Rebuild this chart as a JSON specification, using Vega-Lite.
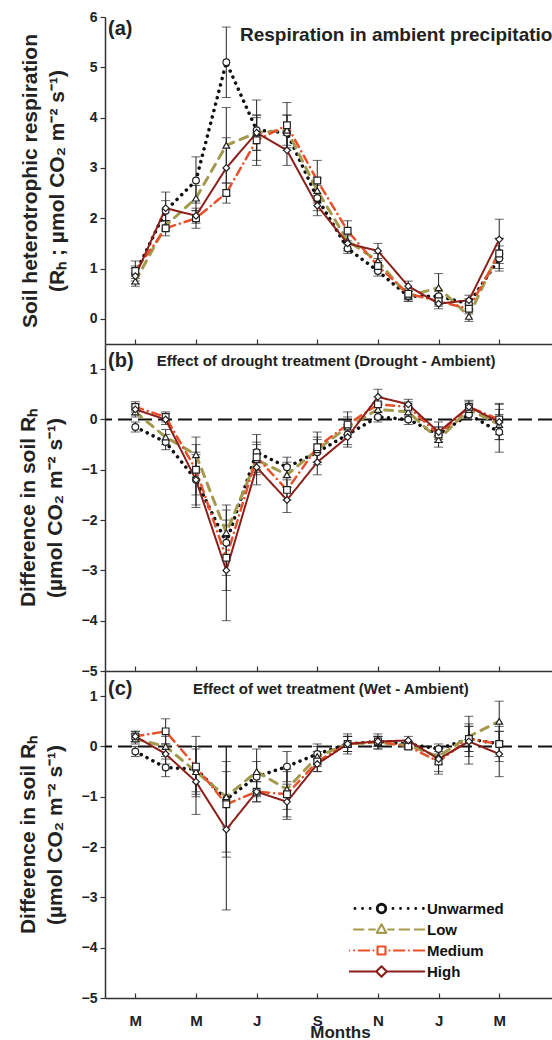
{
  "$schema": "https://vega.github.io/schema/vega-lite/v6.json",
  "padding": {"left": 17, "top": 10, "right": 0, "bottom": 0},
  "spacing": 0,
  "bounds": "flush",
  "background": "white",
  "config": {
    "view": {"stroke": null},
    "font": "Liberation Sans",
    "axis": {"labelFont": "Liberation Sans", "labelFontWeight": "bold", "labelFontSize": 14, "labelColor": "#222", "titleFont": "Liberation Sans", "titleFontWeight": "bold", "titleColor": "#222", "domainColor": "#333", "domainWidth": 1.5, "tickColor": "#333", "tickWidth": 1.2, "grid": false, "labelOverlap": false},
    "text": {"font": "Liberation Sans", "fontWeight": "bold", "color": "#222"}
  },
  "data": {"values": [
    {"p":"a","m":1,"s":"Unwarmed","v":0.9,"lo":0.75,"hi":1.05},{"p":"a","m":1,"s":"Low","v":0.75,"lo":0.65,"hi":0.85},{"p":"a","m":1,"s":"Medium","v":0.95,"lo":0.8,"hi":1.15},{"p":"a","m":1,"s":"High","v":0.85,"lo":0.7,"hi":1.0},
    {"p":"a","m":2,"s":"Unwarmed","v":2.15,"lo":1.95,"hi":2.35},{"p":"a","m":2,"s":"Low","v":1.85,"lo":1.75,"hi":1.95},{"p":"a","m":2,"s":"Medium","v":1.8,"lo":1.65,"hi":1.95},{"p":"a","m":2,"s":"High","v":2.2,"lo":1.95,"hi":2.52},
    {"p":"a","m":3,"s":"Unwarmed","v":2.75,"lo":2.3,"hi":3.22},{"p":"a","m":3,"s":"Low","v":2.4,"lo":2.15,"hi":2.65},{"p":"a","m":3,"s":"Medium","v":2.0,"lo":1.8,"hi":2.15},{"p":"a","m":3,"s":"High","v":2.05,"lo":1.9,"hi":2.2},
    {"p":"a","m":4,"s":"Unwarmed","v":5.1,"lo":4.4,"hi":5.8},{"p":"a","m":4,"s":"Low","v":3.45,"lo":2.7,"hi":4.2},{"p":"a","m":4,"s":"Medium","v":2.5,"lo":2.3,"hi":2.7},{"p":"a","m":4,"s":"High","v":3.0,"lo":2.45,"hi":3.6},
    {"p":"a","m":5,"s":"Unwarmed","v":3.75,"lo":3.15,"hi":4.35},{"p":"a","m":5,"s":"Low","v":3.7,"lo":3.35,"hi":4.05},{"p":"a","m":5,"s":"Medium","v":3.55,"lo":3.05,"hi":4.0},{"p":"a","m":5,"s":"High","v":3.7,"lo":3.35,"hi":4.05},
    {"p":"a","m":6,"s":"Unwarmed","v":3.7,"lo":3.35,"hi":4.05},{"p":"a","m":6,"s":"Low","v":3.75,"lo":3.45,"hi":4.05},{"p":"a","m":6,"s":"Medium","v":3.85,"lo":3.4,"hi":4.3},{"p":"a","m":6,"s":"High","v":3.35,"lo":3.05,"hi":3.65},
    {"p":"a","m":7,"s":"Unwarmed","v":2.4,"lo":2.15,"hi":2.65},{"p":"a","m":7,"s":"Low","v":2.55,"lo":2.3,"hi":2.8},{"p":"a","m":7,"s":"Medium","v":2.75,"lo":2.35,"hi":3.15},{"p":"a","m":7,"s":"High","v":2.25,"lo":2.05,"hi":2.45},
    {"p":"a","m":8,"s":"Unwarmed","v":1.4,"lo":1.3,"hi":1.5},{"p":"a","m":8,"s":"Low","v":1.55,"lo":1.4,"hi":1.7},{"p":"a","m":8,"s":"Medium","v":1.75,"lo":1.55,"hi":1.95},{"p":"a","m":8,"s":"High","v":1.5,"lo":1.35,"hi":1.65},
    {"p":"a","m":9,"s":"Unwarmed","v":0.95,"lo":0.85,"hi":1.05},{"p":"a","m":9,"s":"Low","v":1.15,"lo":1.0,"hi":1.3},{"p":"a","m":9,"s":"Medium","v":1.05,"lo":0.95,"hi":1.15},{"p":"a","m":9,"s":"High","v":1.35,"lo":1.2,"hi":1.5},
    {"p":"a","m":10,"s":"Unwarmed","v":0.45,"lo":0.35,"hi":0.55},{"p":"a","m":10,"s":"Low","v":0.45,"lo":0.35,"hi":0.55},{"p":"a","m":10,"s":"Medium","v":0.5,"lo":0.4,"hi":0.6},{"p":"a","m":10,"s":"High","v":0.65,"lo":0.55,"hi":0.75},
    {"p":"a","m":11,"s":"Unwarmed","v":0.45,"lo":0.35,"hi":0.55},{"p":"a","m":11,"s":"Low","v":0.62,"lo":0.35,"hi":0.9},{"p":"a","m":11,"s":"Medium","v":0.35,"lo":0.25,"hi":0.45},{"p":"a","m":11,"s":"High","v":0.3,"lo":0.2,"hi":0.4},
    {"p":"a","m":12,"s":"Unwarmed","v":0.3,"lo":0.2,"hi":0.4},{"p":"a","m":12,"s":"Low","v":0.05,"lo":-0.05,"hi":0.15},{"p":"a","m":12,"s":"Medium","v":0.2,"lo":0.1,"hi":0.3},{"p":"a","m":12,"s":"High","v":0.37,"lo":0.27,"hi":0.47},
    {"p":"a","m":13,"s":"Unwarmed","v":1.2,"lo":0.95,"hi":1.45},{"p":"a","m":13,"s":"Low","v":1.35,"lo":1.1,"hi":1.6},{"p":"a","m":13,"s":"Medium","v":1.3,"lo":1.0,"hi":1.6},{"p":"a","m":13,"s":"High","v":1.58,"lo":1.2,"hi":1.98},

    {"p":"b","m":1,"s":"Unwarmed","v":-0.15,"lo":-0.25,"hi":-0.05},{"p":"b","m":1,"s":"Low","v":0.15,"lo":0.05,"hi":0.25},{"p":"b","m":1,"s":"Medium","v":0.25,"lo":0.15,"hi":0.35},{"p":"b","m":1,"s":"High","v":0.2,"lo":0.1,"hi":0.3},
    {"p":"b","m":2,"s":"Unwarmed","v":-0.45,"lo":-0.6,"hi":-0.3},{"p":"b","m":2,"s":"Low","v":-0.35,"lo":-0.5,"hi":-0.2},{"p":"b","m":2,"s":"Medium","v":0.05,"lo":-0.05,"hi":0.15},{"p":"b","m":2,"s":"High","v":0.0,"lo":-0.1,"hi":0.12},
    {"p":"b","m":3,"s":"Unwarmed","v":-1.2,"lo":-1.75,"hi":-0.65},{"p":"b","m":3,"s":"Low","v":-0.7,"lo":-1.05,"hi":-0.35},{"p":"b","m":3,"s":"Medium","v":-1.0,"lo":-1.5,"hi":-0.5},{"p":"b","m":3,"s":"High","v":-1.2,"lo":-1.7,"hi":-0.7},
    {"p":"b","m":4,"s":"Unwarmed","v":-2.45,"lo":-3.1,"hi":-1.8},{"p":"b","m":4,"s":"Low","v":-2.25,"lo":-2.8,"hi":-1.7},{"p":"b","m":4,"s":"Medium","v":-2.75,"lo":-3.4,"hi":-2.1},{"p":"b","m":4,"s":"High","v":-3.0,"lo":-4.0,"hi":-2.0},
    {"p":"b","m":5,"s":"Unwarmed","v":-0.65,"lo":-1.0,"hi":-0.3},{"p":"b","m":5,"s":"Low","v":-0.8,"lo":-1.1,"hi":-0.5},{"p":"b","m":5,"s":"Medium","v":-0.75,"lo":-1.05,"hi":-0.45},{"p":"b","m":5,"s":"High","v":-0.95,"lo":-1.3,"hi":-0.6},
    {"p":"b","m":6,"s":"Unwarmed","v":-0.95,"lo":-1.15,"hi":-0.75},{"p":"b","m":6,"s":"Low","v":-1.1,"lo":-1.35,"hi":-0.85},{"p":"b","m":6,"s":"Medium","v":-1.4,"lo":-1.6,"hi":-1.2},{"p":"b","m":6,"s":"High","v":-1.6,"lo":-1.85,"hi":-1.35},
    {"p":"b","m":7,"s":"Unwarmed","v":-0.65,"lo":-0.9,"hi":-0.4},{"p":"b","m":7,"s":"Low","v":-0.6,"lo":-0.85,"hi":-0.35},{"p":"b","m":7,"s":"Medium","v":-0.55,"lo":-0.85,"hi":-0.25},{"p":"b","m":7,"s":"High","v":-0.85,"lo":-1.1,"hi":-0.6},
    {"p":"b","m":8,"s":"Unwarmed","v":-0.3,"lo":-0.5,"hi":-0.1},{"p":"b","m":8,"s":"Low","v":-0.15,"lo":-0.35,"hi":0.05},{"p":"b","m":8,"s":"Medium","v":-0.1,"lo":-0.3,"hi":0.15},{"p":"b","m":8,"s":"High","v":-0.35,"lo":-0.55,"hi":-0.15},
    {"p":"b","m":9,"s":"Unwarmed","v":0.05,"lo":-0.05,"hi":0.15},{"p":"b","m":9,"s":"Low","v":0.2,"lo":0.05,"hi":0.35},{"p":"b","m":9,"s":"Medium","v":0.3,"lo":0.15,"hi":0.45},{"p":"b","m":9,"s":"High","v":0.45,"lo":0.3,"hi":0.6},
    {"p":"b","m":10,"s":"Unwarmed","v":0.0,"lo":-0.1,"hi":0.1},{"p":"b","m":10,"s":"Low","v":0.15,"lo":0.05,"hi":0.25},{"p":"b","m":10,"s":"Medium","v":0.25,"lo":0.15,"hi":0.35},{"p":"b","m":10,"s":"High","v":0.3,"lo":0.2,"hi":0.4},
    {"p":"b","m":11,"s":"Unwarmed","v":-0.3,"lo":-0.45,"hi":-0.15},{"p":"b","m":11,"s":"Low","v":-0.4,"lo":-0.55,"hi":-0.25},{"p":"b","m":11,"s":"Medium","v":-0.3,"lo":-0.45,"hi":-0.15},{"p":"b","m":11,"s":"High","v":-0.25,"lo":-0.4,"hi":-0.05},
    {"p":"b","m":12,"s":"Unwarmed","v":0.1,"lo":0.0,"hi":0.2},{"p":"b","m":12,"s":"Low","v":0.2,"lo":0.1,"hi":0.3},{"p":"b","m":12,"s":"Medium","v":0.25,"lo":0.15,"hi":0.35},{"p":"b","m":12,"s":"High","v":0.25,"lo":0.15,"hi":0.38},
    {"p":"b","m":13,"s":"Unwarmed","v":-0.25,"lo":-0.65,"hi":0.1},{"p":"b","m":13,"s":"Low","v":-0.1,"lo":-0.4,"hi":0.2},{"p":"b","m":13,"s":"Medium","v":0.0,"lo":-0.3,"hi":0.32},{"p":"b","m":13,"s":"High","v":-0.05,"lo":-0.4,"hi":0.3},

    {"p":"c","m":1,"s":"Unwarmed","v":-0.1,"lo":-0.2,"hi":0.0},{"p":"c","m":1,"s":"Low","v":0.15,"lo":0.05,"hi":0.25},{"p":"c","m":1,"s":"Medium","v":0.2,"lo":0.1,"hi":0.3},{"p":"c","m":1,"s":"High","v":0.2,"lo":0.1,"hi":0.3},
    {"p":"c","m":2,"s":"Unwarmed","v":-0.42,"lo":-0.6,"hi":-0.25},{"p":"c","m":2,"s":"Low","v":0.0,"lo":-0.2,"hi":0.2},{"p":"c","m":2,"s":"Medium","v":0.3,"lo":0.05,"hi":0.55},{"p":"c","m":2,"s":"High","v":-0.15,"lo":-0.35,"hi":0.05},
    {"p":"c","m":3,"s":"Unwarmed","v":-0.45,"lo":-0.9,"hi":0.0},{"p":"c","m":3,"s":"Low","v":-0.5,"lo":-1.0,"hi":0.0},{"p":"c","m":3,"s":"Medium","v":-0.4,"lo":-0.95,"hi":0.2},{"p":"c","m":3,"s":"High","v":-0.7,"lo":-1.35,"hi":-0.05},
    {"p":"c","m":4,"s":"Unwarmed","v":-1.05,"lo":-1.6,"hi":-0.5},{"p":"c","m":4,"s":"Low","v":-1.0,"lo":-2.1,"hi":0.0},{"p":"c","m":4,"s":"Medium","v":-1.15,"lo":-2.2,"hi":-0.3},{"p":"c","m":4,"s":"High","v":-1.65,"lo":-3.25,"hi":0.0},
    {"p":"c","m":5,"s":"Unwarmed","v":-0.6,"lo":-0.9,"hi":-0.3},{"p":"c","m":5,"s":"Low","v":-0.5,"lo":-1.0,"hi":-0.05},{"p":"c","m":5,"s":"Medium","v":-0.9,"lo":-1.1,"hi":-0.7},{"p":"c","m":5,"s":"High","v":-0.9,"lo":-1.1,"hi":-0.7},
    {"p":"c","m":6,"s":"Unwarmed","v":-0.4,"lo":-0.7,"hi":-0.1},{"p":"c","m":6,"s":"Low","v":-0.85,"lo":-1.25,"hi":-0.45},{"p":"c","m":6,"s":"Medium","v":-0.95,"lo":-1.4,"hi":-0.5},{"p":"c","m":6,"s":"High","v":-1.1,"lo":-1.45,"hi":-0.75},
    {"p":"c","m":7,"s":"Unwarmed","v":-0.15,"lo":-0.35,"hi":0.05},{"p":"c","m":7,"s":"Low","v":-0.2,"lo":-0.4,"hi":0.0},{"p":"c","m":7,"s":"Medium","v":-0.3,"lo":-0.5,"hi":-0.1},{"p":"c","m":7,"s":"High","v":-0.35,"lo":-0.5,"hi":-0.2},
    {"p":"c","m":8,"s":"Unwarmed","v":0.05,"lo":-0.1,"hi":0.2},{"p":"c","m":8,"s":"Low","v":0.05,"lo":-0.15,"hi":0.25},{"p":"c","m":8,"s":"Medium","v":0.05,"lo":-0.1,"hi":0.2},{"p":"c","m":8,"s":"High","v":0.05,"lo":-0.1,"hi":0.2},
    {"p":"c","m":9,"s":"Unwarmed","v":0.1,"lo":0.0,"hi":0.2},{"p":"c","m":9,"s":"Low","v":0.08,"lo":-0.05,"hi":0.2},{"p":"c","m":9,"s":"Medium","v":0.1,"lo":0.0,"hi":0.2},{"p":"c","m":9,"s":"High","v":0.1,"lo":-0.05,"hi":0.25},
    {"p":"c","m":10,"s":"Unwarmed","v":0.05,"lo":0.0,"hi":0.1},{"p":"c","m":10,"s":"Low","v":0.02,"lo":-0.05,"hi":0.1},{"p":"c","m":10,"s":"Medium","v":0.0,"lo":-0.05,"hi":0.05},{"p":"c","m":10,"s":"High","v":0.12,"lo":0.05,"hi":0.2},
    {"p":"c","m":11,"s":"Unwarmed","v":-0.05,"lo":-0.15,"hi":0.05},{"p":"c","m":11,"s":"Low","v":-0.2,"lo":-0.35,"hi":-0.05},{"p":"c","m":11,"s":"Medium","v":-0.3,"lo":-0.5,"hi":-0.1},{"p":"c","m":11,"s":"High","v":-0.25,"lo":-0.55,"hi":0.0},
    {"p":"c","m":12,"s":"Unwarmed","v":0.15,"lo":-0.1,"hi":0.4},{"p":"c","m":12,"s":"Low","v":0.2,"lo":-0.35,"hi":0.6},{"p":"c","m":12,"s":"Medium","v":0.15,"lo":-0.1,"hi":0.45},{"p":"c","m":12,"s":"High","v":0.1,"lo":-0.2,"hi":0.4},
    {"p":"c","m":13,"s":"Unwarmed","v":0.05,"lo":-0.3,"hi":0.4},{"p":"c","m":13,"s":"Low","v":0.5,"lo":0.1,"hi":0.9},{"p":"c","m":13,"s":"Medium","v":0.05,"lo":-0.2,"hi":0.3},{"p":"c","m":13,"s":"High","v":-0.15,"lo":-0.6,"hi":0.3}
  ]},
  "resolve": {"legend": {"color": "independent", "strokeDash": "independent", "shape": "independent"}},
  "vconcat": [
    {
      "width": 447, "height": 327,
      "transform": [{"filter": "datum.p == 'a'"}],
      "layer": [
        {"mark": {"type": "errorbar", "ticks": {"size": 9}, "color": "#222", "thickness": 1},
         "encoding": {
           "x": {"field": "m", "type": "quantitative", "scale": {"domain": [0, 14.74], "nice": false}, "axis": {"values": [1,2,3,4,5,6,7,8,9,10,11,12,13], "labels": false, "tickSize": -5, "title": null}},
           "y": {"field": "lo", "type": "quantitative", "title": ["Soil heterotrophic respiration", "(Rₕ ; µmol CO₂ m⁻² s⁻¹)"], "scale": {"domain": [-0.5, 6], "nice": false, "zero": false}, "axis": {"values": [0,1,2,3,4,5,6], "titleFontSize": 21, "titleLineHeight": 27, "titlePadding": 22, "tickSize": 5, "labelPadding": 3}},
           "y2": {"field": "hi"}}},
        {"mark": {"type": "line", "strokeCap": "round", "strokeJoin": "round"},
         "encoding": {
           "x": {"field": "m", "type": "quantitative"},
           "y": {"field": "v", "type": "quantitative", "title": ["Soil heterotrophic respiration", "(Rₕ ; µmol CO₂ m⁻² s⁻¹)"]},
           "color": {"field": "s", "type": "nominal", "sort": ["Unwarmed","Low","Medium","High"], "scale": {"range": ["#111111","#a39a4e","#e8502a","#8b1f1a"]}, "legend": null},
           "strokeDash": {"field": "s", "type": "nominal", "sort": ["Unwarmed","Low","Medium","High"], "scale": {"range": [[0.1,6.5],[8,7],[8,5,0.1,5],[1,0]]}, "legend": null},
           "strokeWidth": {"field": "s", "type": "ordinal", "scale": {"domain": ["Unwarmed","Low","Medium","High"], "range": [3.5,2,2,2.5]}, "legend": null}}},
        {"mark": {"type": "point", "filled": false, "fill": "white", "stroke": "#222", "strokeWidth": 1.2, "size": 45, "opacity": 1},
         "encoding": {
           "x": {"field": "m", "type": "quantitative"},
           "y": {"field": "v", "type": "quantitative", "title": ["Soil heterotrophic respiration", "(Rₕ ; µmol CO₂ m⁻² s⁻¹)"]},
           "shape": {"field": "s", "type": "nominal", "scale": {"domain": ["Unwarmed","Low","Medium","High"], "range": ["circle","triangle-up","square","diamond"]}, "legend": null}}},
        {"data": {"values": [{}]}, "mark": {"type": "text", "align": "left", "baseline": "middle", "fontSize": 20},
         "encoding": {"x": {"datum": 0.1}, "y": {"datum": 5.76}, "text": {"value": "(a)"}}},
        {"data": {"values": [{}]}, "mark": {"type": "text", "align": "left", "baseline": "middle", "fontSize": 19, "clip": true},
         "encoding": {"x": {"datum": 4.45}, "y": {"datum": 5.64}, "text": {"value": "Respiration in ambient precipitation"}}}
      ]
    },
    {
      "width": 447, "height": 327,
      "transform": [{"filter": "datum.p == 'b'"}],
      "layer": [
        {"data": {"values": [{}]}, "mark": {"type": "rule", "strokeDash": [14, 6], "strokeWidth": 2, "color": "#111"},
         "encoding": {"y": {"datum": 0, "title": ["Difference in soil Rₕ", "(µmol CO₂ m⁻² s⁻¹)"], "scale": {"domain": [-5, 1.5], "nice": false, "zero": false}, "axis": {"values": [-5,-4,-3,-2,-1,0,1], "titleFontSize": 21, "titleLineHeight": 27, "titlePadding": 16, "tickSize": 5, "labelPadding": 3}}}},
        {"mark": {"type": "errorbar", "ticks": {"size": 9}, "color": "#222", "thickness": 1},
         "encoding": {
           "x": {"field": "m", "type": "quantitative", "scale": {"domain": [0, 14.74], "nice": false}, "axis": {"values": [1,2,3,4,5,6,7,8,9,10,11,12,13], "labels": false, "tickSize": -5, "title": null}},
           "y": {"field": "lo", "type": "quantitative", "title": ["Difference in soil Rₕ", "(µmol CO₂ m⁻² s⁻¹)"]},
           "y2": {"field": "hi"}}},
        {"mark": {"type": "line", "strokeCap": "round", "strokeJoin": "round"},
         "encoding": {
           "x": {"field": "m", "type": "quantitative"},
           "y": {"field": "v", "type": "quantitative", "title": ["Difference in soil Rₕ", "(µmol CO₂ m⁻² s⁻¹)"]},
           "color": {"field": "s", "type": "nominal", "sort": ["Unwarmed","Low","Medium","High"], "scale": {"range": ["#111111","#a39a4e","#e8502a","#8b1f1a"]}, "legend": null},
           "strokeDash": {"field": "s", "type": "nominal", "sort": ["Unwarmed","Low","Medium","High"], "scale": {"range": [[0.1,6.5],[8,7],[8,5,0.1,5],[1,0]]}, "legend": null},
           "strokeWidth": {"field": "s", "type": "ordinal", "scale": {"domain": ["Unwarmed","Low","Medium","High"], "range": [3.5,2,2,2.5]}, "legend": null}}},
        {"mark": {"type": "point", "filled": false, "fill": "white", "stroke": "#222", "strokeWidth": 1.2, "size": 45, "opacity": 1},
         "encoding": {
           "x": {"field": "m", "type": "quantitative"},
           "y": {"field": "v", "type": "quantitative", "title": ["Difference in soil Rₕ", "(µmol CO₂ m⁻² s⁻¹)"]},
           "shape": {"field": "s", "type": "nominal", "scale": {"domain": ["Unwarmed","Low","Medium","High"], "range": ["circle","triangle-up","square","diamond"]}, "legend": null}}},
        {"data": {"values": [{}]}, "mark": {"type": "text", "align": "left", "baseline": "middle", "fontSize": 20},
         "encoding": {"x": {"datum": 0.1}, "y": {"datum": 1.16}, "text": {"value": "(b)"}}},
        {"data": {"values": [{}]}, "mark": {"type": "text", "align": "left", "baseline": "middle", "fontSize": 15, "clip": true},
         "encoding": {"x": {"datum": 1.71}, "y": {"datum": 1.16}, "text": {"value": "Effect of drought treatment (Drought - Ambient)"}}}
      ]
    },
    {
      "width": 447, "height": 327,
      "transform": [{"filter": "datum.p == 'c'"}],
      "layer": [
        {"data": {"values": [{}]}, "mark": {"type": "rule", "strokeDash": [14, 6], "strokeWidth": 2, "color": "#111"},
         "encoding": {"y": {"datum": 0, "title": ["Difference in soil Rₕ", "(µmol CO₂ m⁻² s⁻¹)"], "scale": {"domain": [-5, 1.5], "nice": false, "zero": false}, "axis": {"values": [-5,-4,-3,-2,-1,0,1], "titleFontSize": 21, "titleLineHeight": 27, "titlePadding": 16, "tickSize": 5, "labelPadding": 3}}}},
        {"mark": {"type": "errorbar", "ticks": {"size": 9}, "color": "#222", "thickness": 1},
         "encoding": {
           "x": {"field": "m", "type": "quantitative", "title": "Months", "scale": {"domain": [0, 14.74], "nice": false}, "axis": {"values": [1,2,3,4,5,6,7,8,9,10,11,12,13], "labelOverlap": false, "labelExpr": "['M','A','M','J','J','A','S','O','N','D','J','F','M'][datum.value - 1]", "tickSize": -5, "labelPadding": 20, "labelFontSize": 15, "titleFontSize": 17, "titlePadding": -4, "titleX": 235}},
           "y": {"field": "lo", "type": "quantitative", "title": ["Difference in soil Rₕ", "(µmol CO₂ m⁻² s⁻¹)"]},
           "y2": {"field": "hi"}}},
        {"mark": {"type": "line", "strokeCap": "round", "strokeJoin": "round"},
         "encoding": {
           "x": {"field": "m", "type": "quantitative", "title": "Months"},
           "y": {"field": "v", "type": "quantitative", "title": ["Difference in soil Rₕ", "(µmol CO₂ m⁻² s⁻¹)"]},
           "color": {"field": "s", "type": "nominal", "sort": ["Unwarmed","Low","Medium","High"], "scale": {"range": ["#111111","#a39a4e","#e8502a","#8b1f1a"]},
             "legend": {"title": null, "orient": "none", "legendX": 244, "legendY": 228, "symbolType": "M-4.5,0H4.5", "symbolSize": 361, "symbolStrokeWidth": 2.2, "symbolOffset": 25, "clipHeight": 19, "rowPadding": 2, "padding": 0, "labelFont": "Liberation Sans", "labelFontSize": 15, "labelFontWeight": "bold", "labelColor": "#111", "labelOffset": 38, "zindex": 1,
               "encode": {"symbols": {"update": {
                 "strokeCap": {"value": "round"},
                 "strokeJoin": {"value": "round"},
                 "fill": {"value": "white"},
                 "strokeWidth": {"signal": "datum.value === 'Unwarmed' ? 2.8 : 2.1"},
                 "shape": {"signal": "datum.value === 'Unwarmed' ? 'M-4.4,0H-4.39M-3.6,0H-3.59M-2.8,0H-2.79M-2,0H-1.99M-1.2,0H-1.19M1.2,0H1.21M2,0H2.01M2.8,0H2.81M3.6,0H3.61M4.4,0H4.41M-0.45,0A0.45,0.45 0 1,0 0.45,0A0.45,0.45 0 1,0 -0.45,0Z' : datum.value === 'Low' ? 'M-4.5,0H-3.5M-2.9,0H-1.9M-1.3,0H-0.7M0.7,0H1.3M1.9,0H2.9M3.5,0H4.5M0,-0.55L0.5,0.35L-0.5,0.35Z' : datum.value === 'Medium' ? 'M-4.5,0H-3.4M-2.9,0H-2.89M-2.4,0H-1.3M-0.85,0H-0.84M0.84,0H0.85M1.3,0H2.4M2.89,0H2.9M3.4,0H4.5M-0.42,-0.42H0.42V0.42H-0.42Z' : 'M-4.5,0H-0.6M0.6,0H4.5M0,-0.55L0.55,0L0,0.55L-0.55,0Z'"}}}}}},
           "strokeDash": {"field": "s", "type": "nominal", "sort": ["Unwarmed","Low","Medium","High"], "scale": {"range": [[0.1,6.5],[8,7],[8,5,0.1,5],[1,0]]}, "legend": null},
           "strokeWidth": {"field": "s", "type": "ordinal", "scale": {"domain": ["Unwarmed","Low","Medium","High"], "range": [3.5,2,2,2.5]}, "legend": null}}},
        {"mark": {"type": "point", "filled": false, "fill": "white", "stroke": "#222", "strokeWidth": 1.2, "size": 45, "opacity": 1},
         "encoding": {
           "x": {"field": "m", "type": "quantitative", "title": "Months"},
           "y": {"field": "v", "type": "quantitative", "title": ["Difference in soil Rₕ", "(µmol CO₂ m⁻² s⁻¹)"]},
           "shape": {"field": "s", "type": "nominal", "scale": {"domain": ["Unwarmed","Low","Medium","High"], "range": ["circle","triangle-up","square","diamond"]}, "legend": null}}},
        {"data": {"values": [{}]}, "mark": {"type": "text", "align": "left", "baseline": "middle", "fontSize": 20},
         "encoding": {"x": {"datum": 0.1}, "y": {"datum": 1.14}, "text": {"value": "(c)"}}},
        {"data": {"values": [{}]}, "mark": {"type": "text", "align": "left", "baseline": "middle", "fontSize": 15, "clip": true},
         "encoding": {"x": {"datum": 2.9}, "y": {"datum": 1.14}, "text": {"value": "Effect of wet treatment (Wet - Ambient)"}}}
      ]
    }
  ]
}
